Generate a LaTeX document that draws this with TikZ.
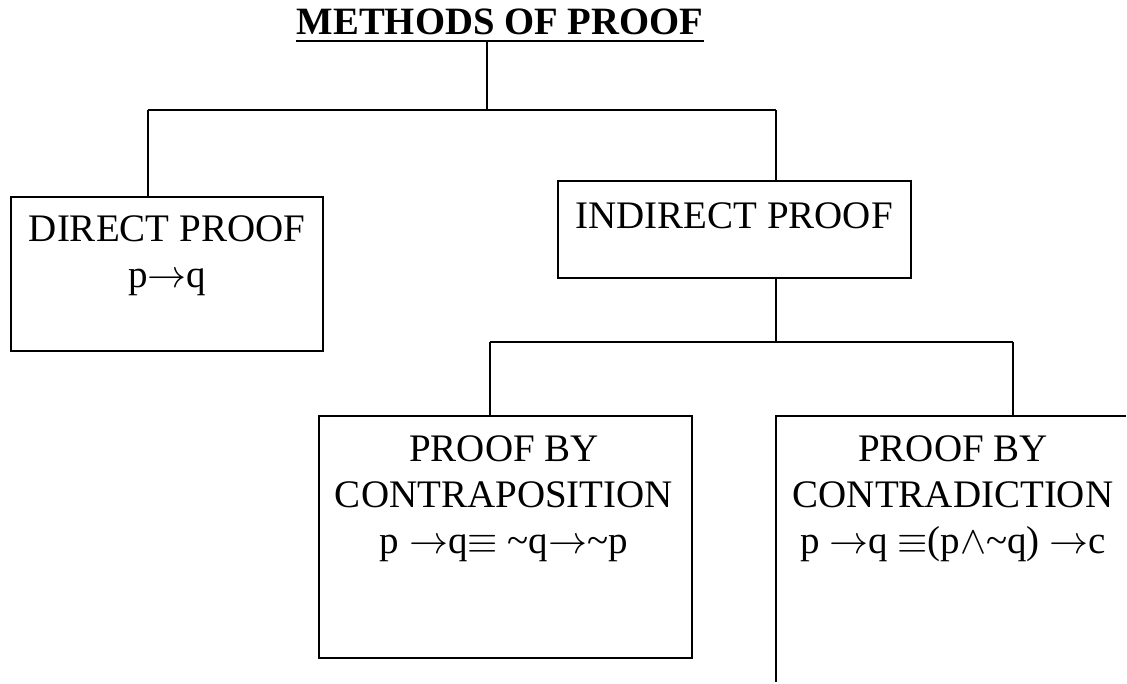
\documentclass[tikz,border=0pt]{standalone}
\usepackage{fix-cm}
\usepackage{fontspec}
\setmainfont{Liberation Serif}
\usetikzlibrary{calc}
\newcommand{\arr}{$\rightarrow$}
\begin{document}
\begin{tikzpicture}[x=1pt,y=-1pt,line width=1.5pt,
  box/.style={draw,rectangle,inner sep=0pt,outer sep=0pt,line width=1.5pt},
  openbox/.style={rectangle,inner sep=0pt,outer sep=0pt},
  lbl/.style={font=\fontsize{39}{46}\selectfont,align=center,inner sep=0pt,anchor=north},
  ttl/.style={font=\bfseries\fontsize{38.7}{44}\selectfont,inner sep=0pt,anchor=base},
  conn/.style={draw,line width=1.6pt}]
\useasboundingbox (0,0) rectangle (1127,684);
% title
\node[ttl] (title) at (500,35) {METHODS OF PROOF};
\draw[conn] ($(title.base west)+(0,6)$) -- ($(title.base east)+(0,6)$);
% boxes
\node[box,minimum width=312pt,minimum height=154pt] (direct) at (167,274) {};
\node[box,minimum width=353pt,minimum height=97pt] (indirect) at (734.5,229.5) {};
\node[box,minimum width=373pt,minimum height=242pt] (contra) at (505.5,537) {};
\node[openbox,minimum width=350pt,minimum height=266pt] (contrad) at (951,549) {};
\draw[conn] (contrad.south west) -- (contrad.north west) -- (contrad.north east);
% texts
\node[lbl] (tdirect) at (167,214.5) {DIRECT PROOF\\p\arr q};
\node[lbl] (tindirect) at (734,201.5) {INDIRECT PROOF};
\node[lbl] (tcontra) at (504,434.5) {PROOF BY\\CONTRAPOSITION\\p \arr q$\equiv$ \textasciitilde q\arr\textasciitilde p};
\node[lbl] (tcontrad) at (953,434.5) {PROOF BY\\CONTRADICTION\\p \arr q $\equiv$(p$\wedge$\textasciitilde q) \arr c};
% connectors
\coordinate (t) at (487,41);
\coordinate (j1) at (487,110);
\coordinate (jl) at (148,110);
\coordinate (jr) at (776,110);
\draw[conn] (t) -- (j1);
\draw[conn] (jl) -- (jr);
\draw[conn] (jl) -- (jl |- direct.north);
\draw[conn] (jr) -- (jr |- indirect.north);
\coordinate (j2) at (776,342);
\coordinate (kl) at (490,342);
\coordinate (kr) at (1013,342);
\draw[conn] (j2 |- indirect.south) -- (j2);
\draw[conn] (kl) -- (kr);
\draw[conn] (kl) -- (kl |- contra.north);
\draw[conn] (kr) -- (kr |- contrad.north);
\end{tikzpicture}
\end{document}
